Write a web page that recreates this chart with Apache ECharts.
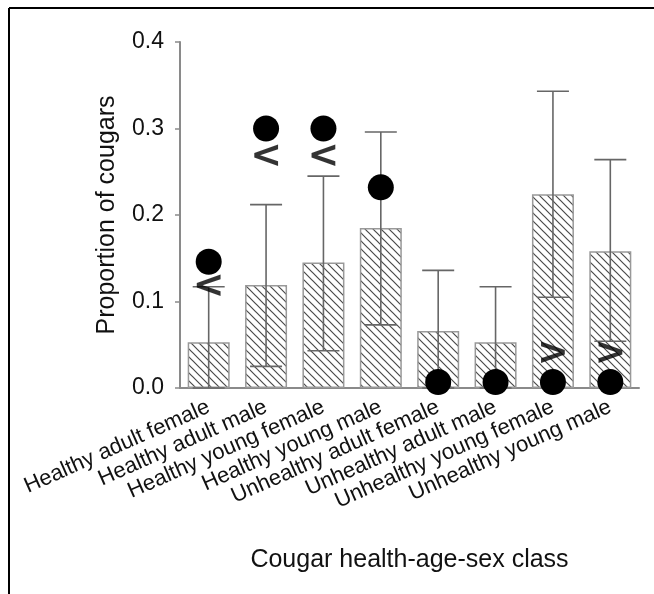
<!DOCTYPE html>
<html>
<head>
<meta charset="utf-8">
<script src="https://cdn.jsdelivr.net/npm/echarts@6/dist/echarts.min.js"></script>
<style>
  html, body { margin: 0; padding: 0; background: #fff; }
  #chart { width: 654px; height: 594px; }
</style>
</head>
<body>
<div id="chart"></div>
<script>
const categories = [
  'Healthy adult female', 'Healthy adult male', 'Healthy young female', 'Healthy young male',
  'Unhealthy adult female', 'Unhealthy adult male', 'Unhealthy young female', 'Unhealthy young male'
]
const proportion   = [0.053, 0.119, 0.145, 0.185, 0.066, 0.053, 0.224, 0.158] // used
const ciLower      = [0, 0.025, 0.043, 0.073, 0, 0, 0.105, 0.054]
const ciUpper      = [0.117, 0.212, 0.245, 0.296, 0.136, 0.117, 0.343, 0.264]
const availability = [0.146, 0.3, 0.3, 0.232, 0.007, 0.007, 0.007, 0.007]  // black dots
const signText     = ['<', '<', '<', '', '', '', '>', '>']
const signPos      = [0.117, 0.267, 0.267, null, null, null, 0.039, 0.039]
const yTicks       = [0, 0.1, 0.2, 0.3, 0.4]

const FONT = "'Liberation Sans', Arial, sans-serif"
const GREY = '#8a8a8a'

// diagonal hatch tile, "\" direction
function hatch() {
  const c = document.createElement('canvas')
  c.width = 8; c.height = 8
  const g = c.getContext('2d')
  g.fillStyle = '#fff'
  g.fillRect(0, 0, 8, 8)
  g.strokeStyle = '#4a4a4a'
  g.lineWidth = 1.2
  g.beginPath()
  g.moveTo(-1, -1); g.lineTo(9, 9)
  g.moveTo(-1, 7); g.lineTo(1, 9)
  g.moveTo(7, -1); g.lineTo(9, 1)
  g.stroke()
  return c
}

const chart = echarts.init(document.getElementById('chart'), null, { renderer: 'canvas' })

chart.setOption({
  backgroundColor: '#fff',
  animation: false,
  textStyle: { fontFamily: FONT },
  graphic: [
    { type: 'line', shape: { x1: 9, y1: 8, x2: 654, y2: 8 }, style: { stroke: '#000', lineWidth: 2 } },
    { type: 'line', shape: { x1: 9, y1: 8, x2: 9, y2: 594 }, style: { stroke: '#000', lineWidth: 2 } }
  ],
  grid: { left: 180, right: 15, top: 42, bottom: 206 },
  xAxis: {
    type: 'category',
    data: categories,
    name: 'Cougar health-age-sex class',
    nameLocation: 'middle',
    nameGap: 160,
    nameTextStyle: { fontSize: 25, color: '#111', fontFamily: FONT },
    axisLine: { lineStyle: { color: GREY, width: 2 } },
    axisTick: { alignWithLabel: true, length: 5, lineStyle: { color: GREY, width: 1.5 } },
    axisLabel: { rotate: 24, interval: 0, margin: 18, fontSize: 22, color: '#111', fontFamily: FONT }
  },
  yAxis: {
    type: 'value',
    min: yTicks[0],
    max: yTicks[yTicks.length - 1],
    interval: 0.1,
    name: 'Proportion of cougars',
    nameLocation: 'middle',
    nameGap: 60,
    nameTextStyle: { fontSize: 25, color: '#111', fontFamily: FONT },
    axisLine: { show: true, lineStyle: { color: GREY, width: 2 } },
    axisTick: { show: true, length: 5, lineStyle: { color: GREY, width: 1.5 } },
    axisLabel: { fontSize: 23, color: '#111', margin: 16, fontFamily: FONT, formatter: v => v.toFixed(1) },
    splitLine: { show: false }
  },
  series: [
    {
      name: 'Used',
      type: 'bar',
      data: proportion,
      barWidth: 42,
      itemStyle: {
        color: { image: hatch(), repeat: 'repeat' },
        borderColor: '#999',
        borderWidth: 1.5
      },
      z: 2
    },
    {
      name: 'CI',
      type: 'custom',
      data: categories.map((c, i) => [i, ciLower[i], ciUpper[i]]),
      renderItem: (params, api) => {
        const lo = api.coord([api.value(0), api.value(1)])
        const hi = api.coord([api.value(0), api.value(2)])
        const w = 16
        const st = { stroke: '#666', lineWidth: 1.6 }
        return {
          type: 'group',
          children: [
            { type: 'line', shape: { x1: hi[0], y1: hi[1], x2: lo[0], y2: lo[1] }, style: st },
            { type: 'line', shape: { x1: hi[0] - w, y1: hi[1], x2: hi[0] + w, y2: hi[1] }, style: st },
            { type: 'line', shape: { x1: lo[0] - w, y1: lo[1], x2: lo[0] + w, y2: lo[1] }, style: st }
          ]
        }
      },
      z: 3
    },
    {
      name: 'Available',
      type: 'scatter',
      data: availability,
      symbol: 'circle',
      symbolSize: 26,
      itemStyle: { color: '#000', opacity: 1 },
      z: 5
    },
    {
      name: 'Sign',
      type: 'scatter',
      data: signPos.map((v, i) => (v == null ? null : { value: [i, v], name: signText[i] })),
      symbolSize: 1,
      itemStyle: { color: 'rgba(0,0,0,0)' },
      label: {
        show: true,
        position: 'inside',
        formatter: p => p.name,
        fontSize: 38,
        fontWeight: 'bold',
        color: '#000',
        fontFamily: "'DejaVu Sans', sans-serif"
      },
      z: 6
    }
  ]
})
</script>
</body>
</html>
